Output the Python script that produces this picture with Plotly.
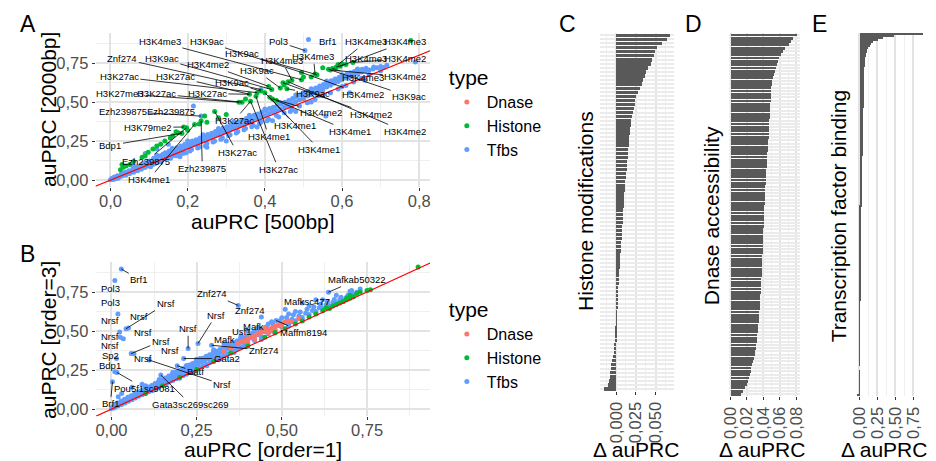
import plotly.graph_objects as go

# ---------------- DATA ----------------
type_names = ["Dnase", "Histone", "Tfbs"]
type_colors = ["#F8766D", "#00BA38", "#619CFF"]
identity_line = [-0.1, 1.0]

# Panel A: auPRC [500bp] (x) vs auPRC [2000bp] (y)
A_dnase = [(0.30, 0.31), (0.42, 0.44), (0.50, 0.52), (0.55, 0.57), (0.36, 0.37), (0.62, 0.66)]
A_tfbs = [
    (0.000, 0.002), (0.004, 0.012), (0.008, 0.004), (0.010, 0.020), (0.014, 0.010), (0.018, 0.028), (0.020, 0.012),
    (0.024, 0.022), (0.028, 0.040), (0.030, 0.026), (0.034, 0.034), (0.038, 0.050), (0.040, 0.032), (0.044, 0.044),
    (0.048, 0.060), (0.050, 0.042), (0.054, 0.052), (0.058, 0.072), (0.060, 0.050), (0.064, 0.062), (0.068, 0.084),
    (0.070, 0.060), (0.074, 0.074), (0.078, 0.092), (0.080, 0.070), (0.084, 0.100), (0.088, 0.082), (0.090, 0.112),
    (0.094, 0.090), (0.100, 0.122), (0.100, 0.096), (0.104, 0.086), (0.110, 0.126), (0.112, 0.140), (0.116, 0.106),
    (0.120, 0.132), (0.122, 0.150), (0.126, 0.118), (0.130, 0.156), (0.132, 0.128), (0.136, 0.166), (0.140, 0.138),
    (0.142, 0.176), (0.146, 0.150), (0.150, 0.162), (0.152, 0.186), (0.156, 0.140), (0.160, 0.172), (0.162, 0.196),
    (0.166, 0.158), (0.170, 0.184), (0.172, 0.208), (0.176, 0.160), (0.180, 0.194), (0.182, 0.218), (0.186, 0.172),
    (0.190, 0.204), (0.192, 0.228), (0.196, 0.176), (0.200, 0.214), (0.202, 0.240), (0.206, 0.186), (0.210, 0.226),
    (0.212, 0.250), (0.220, 0.232), (0.222, 0.258), (0.226, 0.206), (0.230, 0.244), (0.232, 0.270), (0.240, 0.254),
    (0.242, 0.280), (0.246, 0.218), (0.250, 0.266), (0.252, 0.292), (0.260, 0.274), (0.262, 0.300), (0.266, 0.244),
    (0.270, 0.286), (0.272, 0.312), (0.280, 0.294), (0.282, 0.320), (0.286, 0.262), (0.290, 0.306), (0.292, 0.334),
    (0.300, 0.314), (0.302, 0.342), (0.306, 0.284), (0.310, 0.326), (0.312, 0.354), (0.320, 0.334), (0.322, 0.362),
    (0.326, 0.302), (0.330, 0.346), (0.332, 0.374), (0.340, 0.354), (0.342, 0.384), (0.346, 0.322), (0.350, 0.366),
    (0.352, 0.394), (0.360, 0.374), (0.362, 0.404), (0.366, 0.342), (0.370, 0.386), (0.372, 0.416), (0.380, 0.394),
    (0.382, 0.424), (0.386, 0.362), (0.390, 0.406), (0.392, 0.436), (0.400, 0.414), (0.402, 0.446), (0.406, 0.380),
    (0.410, 0.426), (0.412, 0.458), (0.420, 0.436), (0.422, 0.466), (0.430, 0.446), (0.432, 0.478), (0.436, 0.404),
    (0.440, 0.456), (0.442, 0.488), (0.450, 0.466), (0.452, 0.498), (0.460, 0.478), (0.462, 0.510), (0.466, 0.440),
    (0.470, 0.490), (0.472, 0.522), (0.480, 0.502), (0.482, 0.534), (0.490, 0.514), (0.492, 0.546), (0.500, 0.526),
    (0.502, 0.556), (0.510, 0.538), (0.512, 0.568), (0.520, 0.548), (0.522, 0.578), (0.530, 0.560), (0.532, 0.590),
    (0.540, 0.572), (0.542, 0.602), (0.550, 0.584), (0.552, 0.612), (0.560, 0.596), (0.562, 0.624), (0.570, 0.608),
    (0.572, 0.636), (0.580, 0.620), (0.582, 0.648), (0.590, 0.632), (0.592, 0.658), (0.600, 0.644), (0.602, 0.668),
    (0.610, 0.654), (0.612, 0.678), (0.620, 0.664), (0.622, 0.688), (0.630, 0.674), (0.632, 0.696), (0.640, 0.684),
    (0.642, 0.704), (0.650, 0.692), (0.652, 0.710), (0.660, 0.700), (0.662, 0.716), (0.670, 0.706), (0.680, 0.712),
    (0.682, 0.724), (0.690, 0.720), (0.700, 0.728), (0.708, 0.722), (0.716, 0.736),
    (0.050, 0.048), (0.070, 0.066), (0.090, 0.082), (0.110, 0.100), (0.130, 0.118), (0.150, 0.140), (0.170, 0.156),
    (0.190, 0.172), (0.210, 0.196), (0.230, 0.212), (0.250, 0.236), (0.270, 0.250), (0.290, 0.272), (0.310, 0.290),
    (0.330, 0.312), (0.350, 0.330), (0.370, 0.350), (0.390, 0.372), (0.410, 0.390), (0.430, 0.414), (0.450, 0.432),
    (0.470, 0.452), (0.490, 0.474), (0.510, 0.496), (0.530, 0.516), (0.550, 0.540), (0.570, 0.560), (0.590, 0.584),
    (0.610, 0.606), (0.630, 0.628), (0.650, 0.652), (0.670, 0.676),
    (0.120, 0.160), (0.160, 0.205), (0.200, 0.250), (0.240, 0.290), (0.280, 0.330), (0.320, 0.375), (0.360, 0.415),
    (0.400, 0.455), (0.440, 0.495), (0.480, 0.545), (0.520, 0.585), (0.560, 0.635), (0.600, 0.675), (0.640, 0.712),
    (0.513, 0.900), (0.504, 0.830), (0.790, 0.757), (0.558, 0.410), (0.235, 0.410), (0.215, 0.475), (0.543, 0.590),
    (0.620, 0.560), (0.480, 0.440), (0.380, 0.340), (0.300, 0.250), (0.420, 0.380), (0.250, 0.210), (0.180, 0.150),
    (0.120, 0.200), (0.090, 0.170), (0.150, 0.230), (0.060, 0.090), (0.390, 0.580), (0.185, 0.300), (0.660, 0.640),
    (0.600, 0.600), (0.520, 0.500), (0.700, 0.700), (0.540, 0.540),
]
A_hist = [
    (0.778, 0.894), (0.590, 0.740), (0.595, 0.730), (0.585, 0.725), (0.575, 0.715), (0.565, 0.710), (0.570, 0.705),
    (0.628, 0.754), (0.530, 0.680), (0.535, 0.675), (0.495, 0.690), (0.495, 0.643), (0.470, 0.640), (0.447, 0.624),
    (0.457, 0.585), (0.440, 0.590), (0.418, 0.580), (0.410, 0.600), (0.390, 0.570), (0.377, 0.537), (0.380, 0.560),
    (0.360, 0.550), (0.363, 0.505), (0.341, 0.499), (0.333, 0.499), (0.413, 0.530), (0.420, 0.520), (0.430, 0.510),
    (0.270, 0.440), (0.244, 0.410), (0.235, 0.380), (0.218, 0.357), (0.197, 0.335), (0.190, 0.340), (0.185, 0.300),
    (0.175, 0.304), (0.162, 0.285), (0.170, 0.310), (0.141, 0.250), (0.120, 0.218), (0.098, 0.178), (0.090, 0.155),
    (0.082, 0.146), (0.030, 0.100), (0.033, 0.083), (0.026, 0.066), (0.110, 0.200), (0.155, 0.270), (0.200, 0.320),
    (0.230, 0.360), (0.520, 0.660), (0.550, 0.720), (0.600, 0.745), (0.610, 0.740), (0.500, 0.660), (0.460, 0.630),
    (0.450, 0.610), (0.400, 0.560), (0.350, 0.520), (0.300, 0.420), (0.280, 0.400), (0.250, 0.370), (0.130, 0.230),
    (0.060, 0.120), (0.050, 0.100), (0.040, 0.090),
]
# label text, text position (x, y), labelled point (x, y) or None
A_labels = [
    ("H3K4me3", 0.128, 0.885, 0.495, 0.643), ("H3K9ac", 0.249, 0.885, 0.495, 0.690), ("Pol3", 0.436, 0.885, 0.504, 0.830),
    ("Brf1", 0.562, 0.885, None, None), ("H3K4me3", 0.662, 0.885, 0.590, 0.740), ("H3K4me3", 0.764, 0.885, 0.595, 0.730),
    ("H3K9ac", 0.341, 0.810, 0.535, 0.675), ("H3K4me3", 0.526, 0.790, 0.530, 0.680), ("H3K4me3", 0.444, 0.764, 0.470, 0.640),
    ("H3K4me3", 0.662, 0.777, 0.585, 0.725), ("H3K4me2", 0.764, 0.777, 0.628, 0.754), ("Znf274", 0.031, 0.777, 0.390, 0.580),
    ("H3K9ac", 0.133, 0.777, 0.418, 0.580), ("H3K4me2", 0.254, 0.739, 0.410, 0.600), ("H3K9ac", 0.379, 0.700, 0.440, 0.590),
    ("H3K4me3", 0.654, 0.656, 0.575, 0.715), ("H3K4me2", 0.764, 0.662, 0.570, 0.705), ("H3K27ac", 0.023, 0.662, 0.380, 0.560),
    ("H3K27ac", 0.169, 0.662, 0.360, 0.550), ("H3K9ac", 0.315, 0.624, 0.390, 0.570), ("H3K27me3", 0.026, 0.554, 0.333, 0.499),
    ("H3K27ac", 0.120, 0.554, 0.341, 0.499), ("H3K27ac", 0.251, 0.554, 0.360, 0.550), ("H3K9ac", 0.526, 0.554, 0.457, 0.585),
    ("H3K4me2", 0.654, 0.548, 0.495, 0.690), ("H3K9ac", 0.774, 0.535, 0.565, 0.710), ("Ezh239875", 0.033, 0.440, 0.235, 0.410),
    ("Ezh239875", 0.156, 0.440, 0.215, 0.475), ("H3K4me2", 0.546, 0.433, 0.420, 0.520), ("H3K4me2", 0.674, 0.420, 0.447, 0.624),
    ("H3K27ac", 0.321, 0.382, 0.363, 0.505), ("H3K4me1", 0.479, 0.350, 0.413, 0.530), ("H3K4me1", 0.621, 0.312, 0.430, 0.510),
    ("H3K4me2", 0.762, 0.312, 0.460, 0.630), ("H3K79me2", 0.097, 0.338, 0.190, 0.340), ("H3K4me1", 0.410, 0.280, 0.377, 0.537),
    ("Bdp1", 0.000, 0.223, 0.185, 0.300), ("H3K4me1", 0.541, 0.197, 0.400, 0.560), ("H3K27ac", 0.328, 0.178, 0.270, 0.440),
    ("Ezh239875", 0.092, 0.121, 0.197, 0.335), ("Ezh239875", 0.238, 0.076, 0.235, 0.380), ("H3K27ac", 0.436, 0.070, 0.363, 0.505),
    ("H3K4me1", 0.100, 0.006, 0.218, 0.357),
]

# Panel B: auPRC [order=1] (x) vs auPRC [order=3] (y)
B_tfbs = [
    (0.000, 0.004), (0.004, 0.016), (0.008, 0.008), (0.010, 0.030), (0.014, 0.018), (0.018, 0.040), (0.020, 0.022),
    (0.024, 0.034), (0.028, 0.052), (0.030, 0.030), (0.034, 0.046), (0.038, 0.064), (0.040, 0.040), (0.044, 0.056),
    (0.048, 0.076), (0.050, 0.050), (0.054, 0.068), (0.058, 0.086), (0.060, 0.060), (0.064, 0.078), (0.068, 0.098),
    (0.070, 0.072), (0.074, 0.090), (0.078, 0.108), (0.080, 0.082), (0.084, 0.100), (0.088, 0.120), (0.090, 0.092),
    (0.094, 0.112), (0.098, 0.130), (0.100, 0.102), (0.104, 0.124), (0.108, 0.142), (0.110, 0.112), (0.114, 0.134),
    (0.118, 0.152), (0.120, 0.122), (0.124, 0.146), (0.128, 0.164), (0.130, 0.132), (0.134, 0.156), (0.138, 0.176),
    (0.140, 0.142), (0.144, 0.168), (0.148, 0.188), (0.150, 0.152), (0.154, 0.178), (0.158, 0.200), (0.160, 0.162),
    (0.164, 0.190), (0.168, 0.212), (0.170, 0.174), (0.174, 0.200), (0.178, 0.224), (0.180, 0.184), (0.184, 0.212),
    (0.188, 0.236), (0.190, 0.194), (0.194, 0.222), (0.198, 0.248), (0.200, 0.204), (0.204, 0.234), (0.208, 0.258),
    (0.210, 0.214), (0.214, 0.244), (0.218, 0.270), (0.220, 0.224), (0.224, 0.256), (0.228, 0.282), (0.230, 0.236),
    (0.234, 0.266), (0.238, 0.292), (0.240, 0.246), (0.244, 0.278), (0.248, 0.304), (0.250, 0.256), (0.254, 0.288),
    (0.258, 0.316), (0.260, 0.266), (0.264, 0.300), (0.268, 0.326), (0.270, 0.278), (0.274, 0.310), (0.278, 0.338),
    (0.280, 0.288), (0.284, 0.322), (0.288, 0.348), (0.290, 0.298), (0.294, 0.332), (0.298, 0.360), (0.300, 0.310),
    (0.304, 0.344), (0.308, 0.370), (0.310, 0.320), (0.314, 0.354), (0.318, 0.382), (0.320, 0.332), (0.324, 0.366),
    (0.328, 0.392), (0.330, 0.342), (0.334, 0.376), (0.338, 0.404), (0.340, 0.352), (0.344, 0.388), (0.348, 0.414),
    (0.350, 0.364), (0.354, 0.398), (0.358, 0.426), (0.360, 0.374), (0.364, 0.410), (0.368, 0.436), (0.370, 0.386),
    (0.374, 0.420), (0.378, 0.448), (0.380, 0.396), (0.384, 0.432), (0.388, 0.458), (0.390, 0.408), (0.394, 0.442),
    (0.398, 0.470), (0.400, 0.418), (0.410, 0.456), (0.414, 0.486), (0.420, 0.440), (0.430, 0.476), (0.434, 0.506),
    (0.440, 0.462), (0.450, 0.496), (0.454, 0.526), (0.460, 0.482), (0.470, 0.516), (0.474, 0.546), (0.480, 0.504),
    (0.490, 0.536), (0.494, 0.566), (0.500, 0.524), (0.510, 0.556), (0.514, 0.586), (0.520, 0.544), (0.530, 0.576),
    (0.534, 0.604), (0.540, 0.566), (0.550, 0.596), (0.554, 0.622), (0.560, 0.586), (0.570, 0.614), (0.574, 0.640),
    (0.580, 0.606), (0.590, 0.632), (0.594, 0.656), (0.600, 0.626), (0.610, 0.650), (0.614, 0.672), (0.620, 0.644),
    (0.630, 0.668), (0.634, 0.688), (0.640, 0.662), (0.650, 0.684), (0.654, 0.702), (0.660, 0.680), (0.670, 0.700),
    (0.674, 0.716), (0.680, 0.698), (0.690, 0.716), (0.694, 0.730), (0.700, 0.716), (0.710, 0.734), (0.720, 0.748),
    (0.730, 0.770), (0.705, 0.760),
    (0.120, 0.118), (0.160, 0.158), (0.200, 0.198), (0.240, 0.238), (0.280, 0.278), (0.320, 0.322), (0.360, 0.362),
    (0.400, 0.404), (0.440, 0.446), (0.480, 0.488), (0.520, 0.530), (0.560, 0.572), (0.600, 0.614), (0.640, 0.652),
    (0.680, 0.690),
    (0.100, 0.150), (0.140, 0.190), (0.180, 0.235), (0.220, 0.280), (0.260, 0.325), (0.300, 0.370), (0.340, 0.415),
    (0.380, 0.460), (0.420, 0.500), (0.460, 0.545), (0.500, 0.585), (0.540, 0.625), (0.580, 0.660), (0.620, 0.700),
    (0.660, 0.730), (0.700, 0.755),
    (0.029, 0.897), (0.010, 0.823), (0.019, 0.610), (0.043, 0.515), (0.050, 0.520), (0.024, 0.494), (0.026, 0.460),
    (0.035, 0.450), (0.015, 0.324), (0.058, 0.356), (0.066, 0.354), (0.111, 0.314), (0.225, 0.388), (0.254, 0.420),
    (0.010, 0.240), (0.003, 0.176), (0.016, 0.235), (0.145, 0.218), (0.193, 0.278), (0.212, 0.324), (0.372, 0.664),
    (0.294, 0.409), (0.637, 0.749), (0.483, 0.568), (0.440, 0.590), (0.510, 0.640), (0.600, 0.700), (0.560, 0.680),
    (0.520, 0.610), (0.470, 0.560), (0.300, 0.380), (0.330, 0.420), (0.250, 0.320), (0.030, 0.100), (0.060, 0.140),
    (0.020, 0.080), (0.090, 0.160), (0.400, 0.500), (0.380, 0.470), (0.430, 0.520),
]
B_dnase = [
    (0.37, 0.42), (0.38, 0.43), (0.39, 0.44), (0.40, 0.45), (0.41, 0.46), (0.42, 0.47), (0.43, 0.48), (0.44, 0.49),
    (0.45, 0.50), (0.46, 0.51), (0.47, 0.52), (0.48, 0.53), (0.49, 0.54), (0.50, 0.55), (0.51, 0.56), (0.52, 0.565),
    (0.44, 0.51), (0.45, 0.52), (0.42, 0.45), (0.40, 0.43), (0.47, 0.50), (0.50, 0.53), (0.53, 0.56), (0.55, 0.58),
    (0.46, 0.49), (0.48, 0.51), (0.33, 0.37), (0.35, 0.39),
]
B_hist = [
    (0.90, 0.91), (0.76, 0.765), (0.73, 0.75), (0.72, 0.74), (0.71, 0.72), (0.70, 0.71), (0.69, 0.70), (0.68, 0.69),
    (0.67, 0.68), (0.66, 0.67), (0.65, 0.66), (0.64, 0.645), (0.62, 0.63), (0.60, 0.61), (0.58, 0.59), (0.56, 0.565),
    (0.54, 0.545), (0.51, 0.515), (0.48, 0.49), (0.45, 0.46), (0.40, 0.405), (0.35, 0.36), (0.30, 0.305), (0.25, 0.255),
    (0.20, 0.205), (0.15, 0.15), (0.10, 0.10), (0.75, 0.76), (0.70, 0.73), (0.63, 0.65), (0.69, 0.71),
]
B_labels = [
    ("Brf1", 0.080, 0.833, 0.029, 0.897), ("Pol3", -0.003, 0.770, None, None), ("Pol3", -0.003, 0.685, None, None),
    ("Nrsf", -0.003, 0.568, None, None), ("Nrsf", 0.159, 0.674, 0.043, 0.515), ("Nrsf", 0.080, 0.596, None, None),
    ("Nrsf", -0.003, 0.462, None, None), ("Nrsf", 0.092, 0.488, None, None), ("Nrsf", -0.003, 0.405, None, None),
    ("Sp2", -0.003, 0.345, None, None), ("Nrsf", 0.145, 0.434, 0.058, 0.356), ("Nrsf", 0.172, 0.373, None, None),
    ("Nrsf", 0.092, 0.324, None, None), ("Nrsf", 0.225, 0.515, 0.225, 0.388), ("Nrsf", 0.306, 0.600, 0.254, 0.420),
    ("Nrsf", 0.325, 0.159, 0.111, 0.314), ("Bdp1", -0.003, 0.282, None, None), ("Pou5f1sc9081", 0.097, 0.134, 0.016, 0.235),
    ("Brf1", -0.003, 0.034, 0.003, 0.176), ("Gata3sc269sc269", 0.232, 0.032, 0.145, 0.218), ("Batf", 0.246, 0.240, 0.193, 0.278),
    ("Gata2", 0.338, 0.324, 0.212, 0.324), ("Znf274", 0.294, 0.738, 0.372, 0.664), ("Znf274", 0.407, 0.632, None, None),
    ("Mafk", 0.418, 0.526, None, None), ("Usf1", 0.384, 0.494, None, None), ("Mafk", 0.333, 0.445, None, None),
    ("Znf274", 0.447, 0.377, 0.294, 0.409), ("Maffm8194", 0.565, 0.490, 0.483, 0.568), ("Mafksc477", 0.574, 0.691, None, None),
    ("Mafkab50322", 0.721, 0.829, 0.637, 0.749),
]

# Panels C-E: delta auPRC per experiment, sorted (top to bottom)
histone_delta = [
    0.068, 0.064, 0.058, 0.052, 0.049, 0.047, 0.045, 0.044, 0.040, 0.038, 0.036, 0.034, 0.032, 0.030, 0.027, 0.025,
    0.024, 0.023, 0.022, 0.021, 0.020, 0.019, 0.018, 0.0175, 0.017, 0.0165, 0.016, 0.0155, 0.015, 0.0145, 0.014,
    0.0135, 0.013, 0.0128, 0.012, 0.0115, 0.011, 0.0108, 0.0105, 0.010, 0.0098, 0.0095, 0.009, 0.0088, 0.0085, 0.008,
    0.0078, 0.0075, 0.0072, 0.007, 0.0065, 0.006, 0.0058, 0.0055, 0.005, 0.0048, 0.0045, 0.004, 0.0037, 0.0034, 0.003,
    0.0027, 0.0024, 0.002, 0.0017, 0.0014, 0.001, 0.0007, 0.0004, 0.0001, -0.0002, -0.0006, -0.001, -0.0015, -0.002,
    -0.0023, -0.0026, -0.003, -0.0033, -0.004, -0.0055, -0.0065, -0.0075, -0.008, -0.0088, -0.0095, -0.0105, -0.016,
]
dnase_delta = [
    0.080, 0.075, 0.073, 0.071, 0.066, 0.063, 0.061, 0.059, 0.057, 0.056, 0.055, 0.053, 0.052, 0.051, 0.050, 0.0497,
    0.0493, 0.049, 0.0487, 0.0485, 0.0483, 0.048, 0.0478, 0.0475, 0.0472, 0.047, 0.0468, 0.0466, 0.0464, 0.0462, 0.046,
    0.0458, 0.0456, 0.0453, 0.045, 0.0447, 0.0444, 0.0441, 0.0438, 0.0435, 0.0433, 0.043, 0.0428, 0.0426, 0.0424,
    0.0421, 0.0419, 0.0417, 0.0415, 0.0413, 0.0411, 0.041, 0.0408, 0.0406, 0.0404, 0.0402, 0.040, 0.0399, 0.0397,
    0.0395, 0.0394, 0.0392, 0.039, 0.0389, 0.0388, 0.0386, 0.0384, 0.0383, 0.0381, 0.0379, 0.0378, 0.0376, 0.0374,
    0.0373, 0.0371, 0.037, 0.0367, 0.0365, 0.0362, 0.0359, 0.0357, 0.0355, 0.0352, 0.035, 0.0347, 0.0344, 0.034,
    0.0337, 0.0334, 0.033, 0.0326, 0.0321, 0.0316, 0.0311, 0.0307, 0.030, 0.0293, 0.0287, 0.0278, 0.0268, 0.0258,
    0.0248, 0.0238, 0.0227, 0.0215, 0.0205, 0.0193, 0.017, 0.015, 0.0128,
]
tfbs_delta = [
    0.878, 0.47, 0.33, 0.25, 0.19, 0.16, 0.14, 0.122, 0.11, 0.103, 0.095, 0.088, 0.082, 0.078, 0.075, 0.072, 0.07,
    0.068, 0.067, 0.066, 0.066, 0.065, 0.064, 0.064, 0.063, 0.062, 0.062, 0.061, 0.060, 0.0595, 0.059, 0.058, 0.0575,
    0.057, 0.056, 0.0555, 0.055, 0.054, 0.0535, 0.053, 0.052, 0.0515, 0.051, 0.0505, 0.050, 0.0497, 0.049, 0.0485,
    0.048, 0.0475, 0.047, 0.0465, 0.046, 0.0455, 0.045, 0.0445, 0.044, 0.0435, 0.043, 0.042, 0.0415, 0.041, 0.0405,
    0.040, 0.0395, 0.039, 0.0385, 0.038, 0.0375, 0.037, 0.0365, 0.036, 0.0355, 0.035, 0.0345, 0.034, 0.0335, 0.033,
    0.032, 0.031, 0.0305, 0.030, 0.0295, 0.029, 0.028, 0.0275, 0.027, 0.026, 0.0255, 0.025, 0.024, 0.0235, 0.023,
    0.022, 0.0215, 0.021, 0.020, 0.019, 0.018, 0.0178, 0.0175, 0.017, 0.0166, 0.0162, 0.016, 0.0155, 0.015, 0.0148,
    0.0145, 0.014, 0.0136, 0.0133, 0.013, 0.0126, 0.0123, 0.012, 0.0117, 0.0114, 0.011, 0.0107, 0.0104, 0.010,
    0.0097, 0.0094, 0.009, 0.0087, 0.0084, 0.008, 0.0077, 0.0074, 0.0072, 0.007, 0.0068, 0.0065, 0.0063, 0.006,
    0.0058, 0.0055, 0.0053, 0.005, 0.0047, 0.0045, 0.0042, 0.004, 0.0037, 0.0035, 0.0032, 0.003, 0.0028, 0.0026,
    0.0024, 0.0022, 0.002, 0.0018, 0.0016, 0.0014, 0.0012, 0.001, 0.0008, 0.0006, 0.0005, 0.0004, 0.0003, 0.0002,
    0.0001, 0.0, 0.0, -0.0001, -0.0002, -0.0003, -0.0004, -0.0005, -0.0006, -0.0008, -0.001, -0.0012, -0.0015,
    -0.002, -0.004, -0.03,
]

A_x_ticks = [0.0, 0.2, 0.4, 0.6, 0.8]
AB_y_ticks = [0.0, 0.25, 0.5, 0.75]
B_x_ticks = [0.0, 0.25, 0.5, 0.75]
C_ticks = [0.0, 0.025, 0.05]
D_ticks = [0.0, 0.02, 0.04, 0.06, 0.08]
E_ticks = [0.0, 0.25, 0.5, 0.75]

# ---------------- LAYOUT HELPERS ----------------
W, H = 936, 461
FONT = "Liberation Sans, Arial, Helvetica, sans-serif"
TICK_COLOR = "#4D4D4D"
GRID = "#E3E3E3"
MINOR = "#EFEFEF"


def fx(px):
    return px / W


def fy(py):
    return 1 - py / H


fig = go.Figure()
col = dict(zip(type_names, type_colors))


def add_points(pts, name, xa, ya, legend, rank):
    fig.add_trace(go.Scatter(
        x=[p[0] for p in pts], y=[p[1] for p in pts], mode="markers", name=name,
        marker=dict(color=col[name], size=5, line=dict(width=0)),
        xaxis=xa, yaxis=ya, legend=legend, legendrank=rank, hoverinfo="skip"))


# Panel A
add_points(A_dnase, "Dnase", "x", "y", "legend", 1)
add_points(A_tfbs, "Tfbs", "x", "y", "legend", 3)
add_points(A_hist, "Histone", "x", "y", "legend", 2)
fig.add_trace(go.Scatter(x=identity_line, y=identity_line, mode="lines", line=dict(color="#FF0000", width=1.2),
                         xaxis="x", yaxis="y", showlegend=False, hoverinfo="skip"))
# Panel B
add_points(B_tfbs, "Tfbs", "x2", "y2", "legend2", 3)
add_points(B_dnase, "Dnase", "x2", "y2", "legend2", 1)
add_points(B_hist, "Histone", "x2", "y2", "legend2", 2)
fig.add_trace(go.Scatter(x=identity_line, y=identity_line, mode="lines", line=dict(color="#FF0000", width=1.2),
                         xaxis="x2", yaxis="y2", showlegend=False, hoverinfo="skip"))

# Bars
for vals, xa, ya, w in [(histone_delta, "x3", "y3", 0.85), (dnase_delta, "x4", "y4", 0.85), (tfbs_delta, "x5", "y5", 1.0)]:
    n = len(vals)
    fig.add_trace(go.Bar(x=vals, y=list(range(n, 0, -1)), orientation="h", width=w,
                         marker=dict(color="#595959", line=dict(width=0)),
                         xaxis=xa, yaxis=ya, showlegend=False, hoverinfo="skip"))

tickfont = dict(family=FONT, size=16.5, color=TICK_COLOR)


def scat_axis(domain, rng, ticks, fmt, minor_dtick, standoff=0):
    return dict(domain=domain, range=rng, tickmode="array", tickvals=ticks, tickformat=fmt,
                showgrid=True, gridcolor=GRID, gridwidth=1.5, zeroline=False, showline=False,
                ticks="outside", ticklen=3, tickwidth=1, tickcolor="#333333", tickfont=tickfont,
                ticklabelstandoff=standoff,
                minor=dict(dtick=minor_dtick, tick0=0, showgrid=True, gridcolor=MINOR, gridwidth=1.0, ticks=""))


def bar_xaxis(domain, rng, ticks, fmt, minor_dtick, anchor):
    d = scat_axis(domain, rng, ticks, fmt, minor_dtick)
    d.update(tickangle=-90, anchor=anchor)
    return d


def bar_yaxis(domain, n, grid, anchor):
    return dict(domain=domain, range=[0.4, n + 0.6], tickmode="linear", tick0=1, dtick=1,
                showticklabels=False, ticks="", showgrid=grid, gridcolor="#EBEBEB", gridwidth=1.5,
                zeroline=False, showline=False, anchor=anchor)


legend_common = dict(xanchor="left", yanchor="top", bgcolor="rgba(0,0,0,0)",
                     title=dict(text="type", font=dict(family=FONT, size=21)),
                     font=dict(family=FONT, size=16), itemwidth=30)

fig.update_layout(
    width=W, height=H, margin=dict(l=0, r=0, t=0, b=0),
    paper_bgcolor="white", plot_bgcolor="white", separators=", ",
    font=dict(family=FONT, color="black"), bargap=0,
    xaxis=dict(scat_axis([fx(89), fx(428)], [-0.038, 0.828], A_x_ticks, ".1f", 0.1, -4), anchor="y"),
    yaxis=dict(scat_axis([fy(188), fy(33)], [-0.045, 0.943], AB_y_ticks, ".2f", 0.125), anchor="x"),
    xaxis2=dict(scat_axis([fx(89), fx(428)], [-0.046, 0.935], B_x_ticks, ".2f", 0.125, -4), anchor="y2"),
    yaxis2=dict(scat_axis([fy(418), fy(263)], [-0.045, 0.943], AB_y_ticks, ".2f", 0.125), anchor="x2"),
    xaxis3=bar_xaxis([fx(600), fx(675)], [-0.0209, 0.0729], C_ticks, ".3f", 0.0125, "y3"),
    yaxis3=bar_yaxis([fy(393), fy(33)], len(histone_delta), True, "x3"),
    xaxis4=bar_xaxis([fx(730.7), fx(803)], [-0.0024, 0.0844], D_ticks, ".2f", 0.01, "y4"),
    yaxis4=bar_yaxis([fy(398), fy(33)], len(dnase_delta), True, "x4"),
    xaxis5=bar_xaxis([fx(860.7), fx(928)], [-0.035, 0.883], E_ticks, ".2f", 0.125, "y5"),
    yaxis5=bar_yaxis([fy(398), fy(33)], len(tfbs_delta), False, "x5"),
    legend=dict(legend_common, x=fx(445), y=fy(58)),
    legend2=dict(legend_common, x=fx(445), y=fy(291)),
)

ann = []


def text_ann(txt, px, py, size, angle=0):
    ann.append(dict(text=txt, x=fx(px), y=fy(py), xref="paper", yref="paper", showarrow=False,
                    xanchor="center", yanchor="middle", textangle=angle,
                    font=dict(family=FONT, size=size, color="black")))


for letter, px, py in [("A", 20, 24), ("B", 20, 255), ("C", 567, 24), ("D", 695, 24), ("E", 823, 24)]:
    text_ann(letter, px, py, 23)
text_ann("auPRC [2000bp]", 41, 110, 21, -90)
text_ann("auPRC [500bp]", 259, 222, 21)
text_ann("auPRC [order=3]", 41, 341, 21, -90)
text_ann("auPRC [order=1]", 259, 451, 21)
text_ann("Histone modifications", 585, 212, 21, -90)
text_ann("Dnase accessibility", 713, 217, 21, -90)
text_ann("Transcription factor binding", 842, 217, 21, -90)
for px in [637, 765, 888]:
    text_ann("Δ auPRC", px, 451, 21)


def label_anns(labels, xr, yr):
    for txt, tx, ty, px_, py_ in labels:
        base = dict(text=txt, xref=xr, yref=yr, font=dict(family=FONT, size=9.5, color="black"),
                    xanchor="center", yanchor="middle")
        if px_ is None:
            base.update(x=tx, y=ty, showarrow=False)
        else:
            base.update(x=px_, y=py_, ax=tx, ay=ty, axref=xr, ayref=yr, showarrow=True,
                        arrowhead=0, arrowwidth=0.8, arrowcolor="black", standoff=0)
        ann.append(base)


label_anns(A_labels, "x", "y")
label_anns(B_labels, "x2", "y2")

fig.update_layout(annotations=ann)
fig.write_html("out.html", config={"displayModeBar": False},
               post_script="document.body.style.margin='0px';")
